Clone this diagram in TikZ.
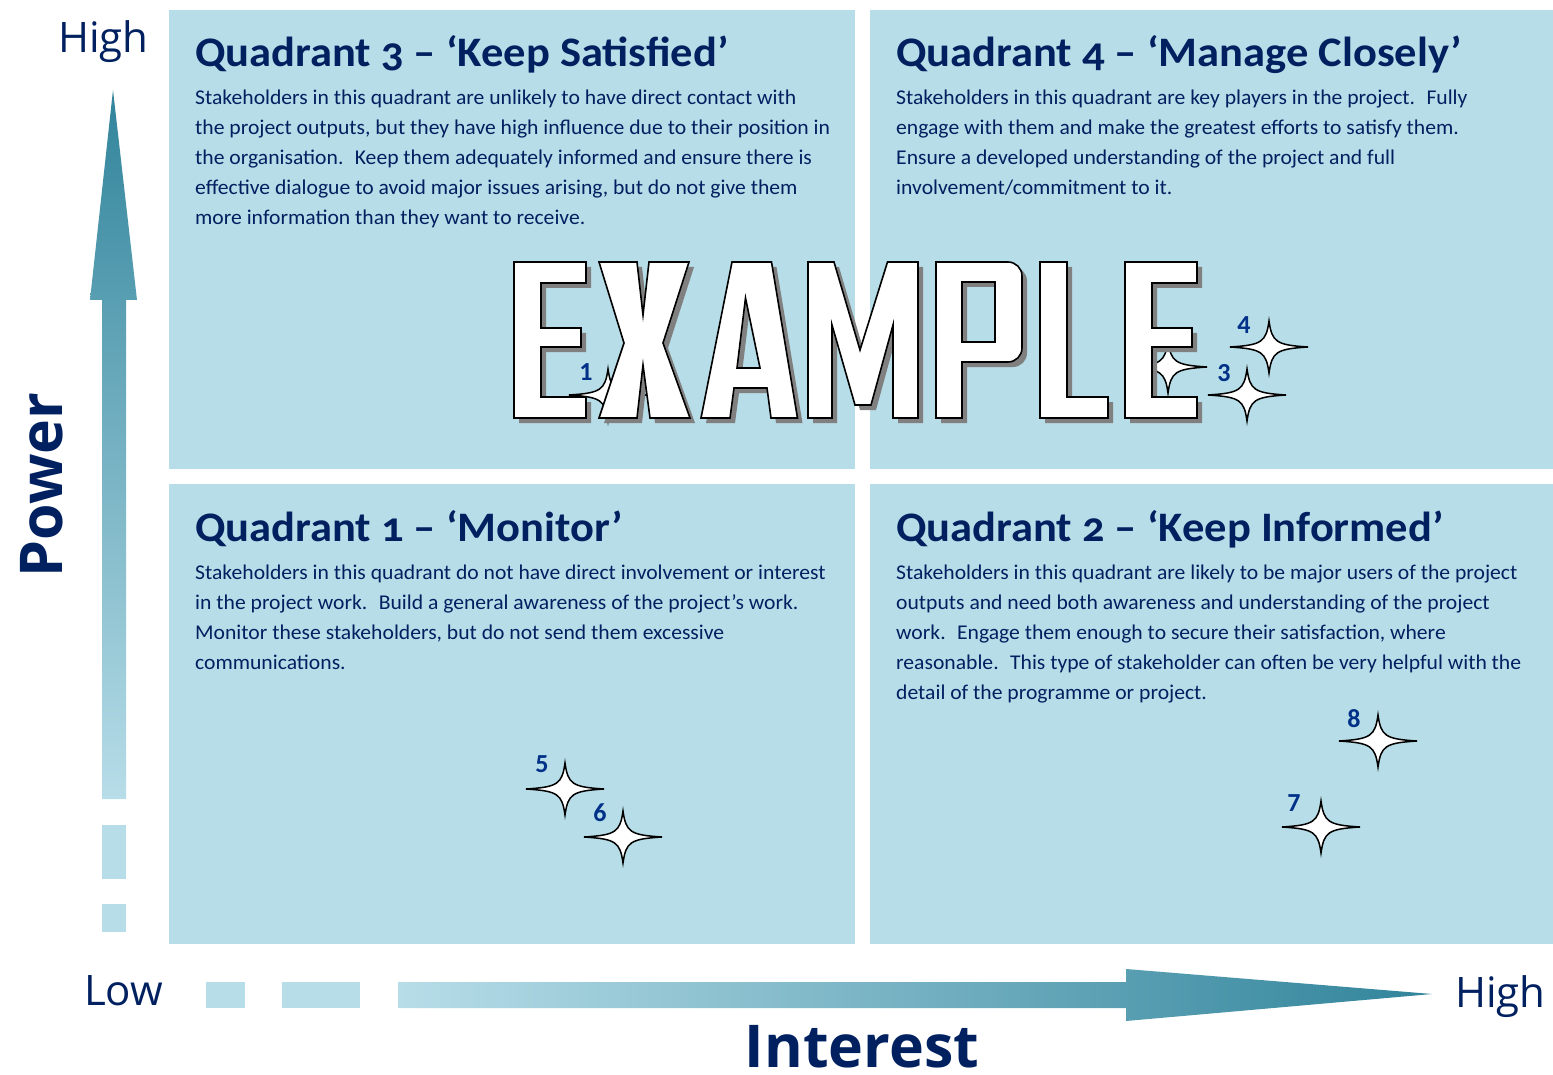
\documentclass[tikz,border=0pt]{standalone}
\usepackage{fontspec}
\setmainfont{Carlito}
\newfontfamily\titlefont[FakeStretch=1.06, Numbers=OldStyle]{Carlito}
\newfontfamily\bodyfont[FakeStretch=1.03]{Carlito}
\newfontfamily\axisfont{Open Sans}
\usetikzlibrary{shadings}
\definecolor{quad}{RGB}{183,221,232}
\definecolor{navy}{RGB}{0,32,96}
\definecolor{starlbl}{RGB}{0,48,135}
\definecolor{tealdark}{RGB}{49,132,155}
\definecolor{teallight}{RGB}{183,221,232}
\definecolor{shadowgray}{RGB}{128,128,128}
\tikzset{
  quadbox/.style={fill=quad, draw=none},
  qtitle/.style={anchor=base west, inner sep=0pt, text=navy, font=\titlefont\fontsize{42}{48}\selectfont\bfseries},
  qbody/.style={anchor=base west, inner sep=0pt, text=navy},
  axislbl/.style={inner sep=0pt, text=navy, font=\axisfont\fontsize{42}{48}\selectfont},
  axistitle/.style={inner sep=0pt, text=navy, font=\axisfont\bfseries\fontsize{59}{64}\selectfont},
  starlabel/.style={inner sep=0pt, text=starlbl, font=\fontsize{26}{30}\selectfont\bfseries},
  dashbox/.style={fill=quad, draw=none},
  letter/.style={fill=white, draw=black, line width=1.6pt, even odd rule, line join=miter},
  lettershadow/.style={fill=shadowgray, draw=none, even odd rule},
  star4/.pic={\draw[fill=white, draw=black, line width=1.5pt]
      (39,0) .. controls (7,-2) and (3,-5) .. (0,-26)
      .. controls (-3,-5) and (-7,-2) .. (-39,0)
      .. controls (-7,2) and (-3,5) .. (0,26)
      .. controls (3,5) and (7,2) .. (39,0) -- cycle;}
}
\newcommand{\bodytext}[1]{\parbox[t]{700pt}{\raggedright\bodyfont\fontsize{21}{30}\selectfont #1}}
\newcommand{\letterE}[1]{(#1,262) -- ++(72,0) -- ++(0,21) -- ++(-45,0) -- ++(0,45) -- ++(40,0) -- ++(0,19) -- ++(-40,0) -- ++(0,50) -- ++(45,0) -- ++(0,21) -- ++(-72,0) -- cycle}
\newcommand{\letterX}{(599,262) -- (637,262) -- (643,315) -- (649,262) -- (689,262) -- (663,343) -- (690,418) -- (650,418) -- (643,365) -- (637,418) -- (599,418) -- (624,343) -- cycle}
\newcommand{\letterA}{(701,418) -- (732,262) -- (771.5,262) -- (797.5,418) -- (771,418) -- (767,388) -- (734,388) -- (730,418) -- cycle (737,368) -- (745.5,298) -- (760,368) -- cycle}
\newcommand{\letterM}{(808,262) -- (834,262) -- (860,350) -- (887.5,262) -- (918,262) -- (918,418) -- (893,418) -- (893,325) -- (871,405) -- (855,405) -- (832,325) -- (832,418) -- (808,418) -- cycle}
\newcommand{\letterP}{(936,418) -- (936,262) [rounded corners=14pt] -- (1022,262) -- (1022,362) [sharp corners] -- (962,362) -- (962,418) -- cycle (962,282) -- (995,282) -- (995,342) -- (962,342) -- cycle}
\newcommand{\letterL}{(1040,262) -- (1067,262) -- (1067,397) -- (1108,397) -- (1108,418) -- (1040,418) -- cycle}
\begin{document}
\begin{tikzpicture}[x=1pt, y=-1pt]
\useasboundingbox (0,0) rectangle (1553,1075);
% quadrants
\fill[quadbox] (169,10) rectangle (855,469);
\fill[quadbox] (870,10) rectangle (1553,469);
\fill[quadbox] (169,484) rectangle (855,944);
\fill[quadbox] (870,484) rectangle (1553,944);
% vertical axis arrow
\shade[top color=tealdark, bottom color=teallight, draw=none]
  (102,799) -- (102,300) -- (90,300) -- (113,90) -- (137,300) -- (126,300) -- (126,799) -- cycle;
\fill[dashbox] (102,825) rectangle (126,879);
\fill[dashbox] (102,904) rectangle (126,932);
% horizontal axis arrow
\shade[left color=teallight, right color=tealdark, draw=none]
  (398,982) -- (1126,982) -- (1126,969) -- (1432,994) -- (1126,1021) -- (1126,1008) -- (398,1008) -- cycle;
\fill[dashbox] (206,982) rectangle (245,1008);
\fill[dashbox] (282,982) rectangle (360,1008);
% axis labels
\node[axislbl, anchor=base west] (yhigh) at (58,53) {High};
\node[axislbl, anchor=base west] (xlow) at (84,1005) {Low};
\node[axislbl, anchor=base west] (xhigh) at (1455,1007) {High};
\node[axistitle, anchor=base, rotate=90] (power) at (62,485) {Power};
\node[axistitle, anchor=base, text depth=0pt] (interest) at (862,1067) {Interest};
% titles
\node[qtitle] (t3) at (195,67) {Quadrant 3 – ‘Keep Satisfied’};
\node[qtitle] (t4) at (896,67) {Quadrant 4 – ‘Manage Closely’};
\node[qtitle] (t1) at (195,541) {Quadrant 1 – ‘Monitor’};
\node[qtitle] (t2) at (896,541) {Quadrant 2 – ‘Keep Informed’};
% bodies
\node[qbody] (b3) at (195,105) {\bodytext{Stakeholders in this quadrant are unlikely to have direct contact with\\
the project outputs, but they have high influence due to their position in\\
the organisation. \ Keep them adequately informed and ensure there is\\
effective dialogue to avoid major issues arising, but do not give them\\
more information than they want to receive.}};
\node[qbody] (b4) at (896,105) {\bodytext{Stakeholders in this quadrant are key players in the project. \ Fully\\
engage with them and make the greatest efforts to satisfy them.\\
Ensure a developed understanding of the project and full\\
involvement/commitment to it.}};
\node[qbody] (b1) at (195,579) {\bodytext{Stakeholders in this quadrant do not have direct involvement or interest\\
in the project work. \ Build a general awareness of the project’s work.\\
Monitor these stakeholders, but do not send them excessive\\
communications.}};
\node[qbody] (b2) at (896,579) {\bodytext{Stakeholders in this quadrant are likely to be major users of the project\\
outputs and need both awareness and understanding of the project\\
work. \ Engage them enough to secure their satisfaction, where\\
reasonable. \ This type of stakeholder can often be very helpful with the\\
detail of the programme or project.}};
% stars
\pic at (608,395) {star4};
\pic at (1168,367) {star4};
\pic at (1247,395) {star4};
\pic at (1269,347) {star4};
\pic at (565,789) {star4};
\pic at (623,837) {star4};
\pic at (1321,827) {star4};
\pic at (1378,741) {star4};
\node[starlabel] (s1) at (586,372) {1};
\node[starlabel] (s3) at (1224,373) {3};
\node[starlabel] (s4) at (1244,325) {4};
\node[starlabel] (s5) at (542,764) {5};
\node[starlabel] (s6) at (600,813) {6};
\node[starlabel] (s7) at (1294,803) {7};
\node[starlabel] (s8) at (1354,719) {8};
% EXAMPLE watermark
\begin{scope}[shift={(5,5)}]
\fill[lettershadow] \letterE{514};
\fill[lettershadow] \letterX;
\fill[lettershadow] \letterA;
\fill[lettershadow] \letterM;
\fill[lettershadow] \letterP;
\fill[lettershadow] \letterL;
\fill[lettershadow] \letterE{1125};
\end{scope}
\draw[letter] \letterE{514};
\draw[letter] \letterX;
\draw[letter] \letterA;
\draw[letter] \letterM;
\draw[letter] \letterP;
\draw[letter] \letterL;
\draw[letter] \letterE{1125};
\end{tikzpicture}
\end{document}
